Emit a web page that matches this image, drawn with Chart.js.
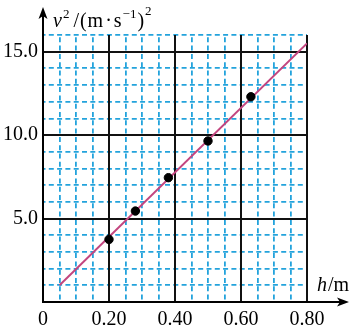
<!DOCTYPE html>
<html>
<head>
<meta charset="utf-8">
<script src="https://cdn.jsdelivr.net/npm/chart.js@4.4.1/dist/chart.umd.min.js"></script>
<style>
  html, body { margin: 0; padding: 0; background: #fff; }
  #wrap { width: 354px; height: 329px; }
</style>
</head>
<body>
<div id="wrap"><canvas id="v2Chart" width="354" height="329"></canvas></div>
<script>
  // measured points: h (m) against v^2 ((m/s)^2)
  const hValues = [0.20, 0.28, 0.38, 0.50, 0.63];
  const v2Values = [3.75, 5.45, 7.45, 9.65, 12.3];

  // fitted straight line (two end points)
  const fitH = [0.05, 0.80];
  const fitV2 = [1.0, 15.5];

  // axis ticks and their labels
  const hTicks = [0, 0.20, 0.40, 0.60, 0.80];
  const hTickLabels = ['0', '0.20', '0.40', '0.60', '0.80'];
  const v2Ticks = [0, 5, 10, 15];
  const v2TickLabels = ['', '5.0', '10.0', '15.0'];
  const hMinorStep = 0.05;
  const v2MinorStep = 1;
  const hMax = 0.80;
  const v2Max = 16;

  const SERIF = '"Liberation Serif", "Times New Roman", serif';
  const CYAN = '#23a3dc';

  const isNear = (v, list) => list.some(t => Math.abs(t - v) < 1e-6);

  const labelFor = (v, ticks, labels) => {
    const i = ticks.findIndex(t => Math.abs(t - v) < 1e-6);
    return i < 0 ? '' : labels[i];
  };

  // arrows on the axes and the two axis titles
  const axisDecor = {
    id: 'axisDecor',
    afterDraw(chart) {
      const { ctx, chartArea: a } = chart;
      ctx.save();
      ctx.strokeStyle = '#000';
      ctx.fillStyle = '#000';
      ctx.lineWidth = 2;

      // y axis going up past the grid
      ctx.beginPath();
      ctx.moveTo(a.left, a.top);
      ctx.lineTo(a.left, 14);
      ctx.stroke();
      ctx.beginPath();
      ctx.moveTo(a.left, 7);
      ctx.lineTo(a.left - 4.5, 19);
      ctx.lineTo(a.left, 16);
      ctx.lineTo(a.left + 4.5, 19);
      ctx.closePath();
      ctx.fill();

      // x axis going right past the grid
      ctx.beginPath();
      ctx.moveTo(a.right, a.bottom);
      ctx.lineTo(342, a.bottom);
      ctx.stroke();
      ctx.beginPath();
      ctx.moveTo(349, a.bottom);
      ctx.lineTo(337, a.bottom - 4.5);
      ctx.lineTo(340, a.bottom);
      ctx.lineTo(337, a.bottom + 4.5);
      ctx.closePath();
      ctx.fill();

      const reg = '20px ' + SERIF;
      const ital = 'italic 20px ' + SERIF;
      const sup = '13px ' + SERIF;

      function drawRich(x, y, parts) {
        ctx.textBaseline = 'alphabetic';
        ctx.textAlign = 'left';
        parts.forEach(p => {
          ctx.font = p.font;
          ctx.fillText(p.text, x, y + (p.dy || 0));
          x += ctx.measureText(p.text).width + (p.gap || 0);
        });
      }

      drawRich(a.left + 10, 27, [
        { text: 'v', font: ital, gap: 1 },
        { text: '2', font: sup, dy: -9, gap: 4 },
        { text: '/', font: reg, gap: 1 },
        { text: '(', font: reg, gap: 1 },
        { text: 'm', font: reg, gap: 2 },
        { text: '·', font: reg, gap: 2 },
        { text: 's', font: reg, gap: 1 },
        { text: '\u22121', font: sup, dy: -9, gap: 1 },
        { text: ')', font: reg, gap: 1 },
        { text: '2', font: sup, dy: -12 }
      ]);

      drawRich(a.right + 10, a.bottom - 11, [
        { text: 'h', font: ital, gap: 1 },
        { text: '/m', font: reg }
      ]);
      ctx.restore();
    }
  };

  const ctx = document.getElementById('v2Chart').getContext('2d');

  new Chart(ctx, {
    type: 'scatter',
    data: {
      datasets: [
        {
          label: 'measured',
          data: hValues.map((h, i) => ({ x: h, y: v2Values[i] })),
          backgroundColor: '#000',
          borderColor: '#000',
          pointRadius: 4.2,
          pointHoverRadius: 4.2
        },
        {
          label: 'fit',
          type: 'line',
          data: fitH.map((h, i) => ({ x: h, y: fitV2[i] })),
          borderColor: '#c3457f',
          borderWidth: 2,
          pointRadius: 0,
          fill: false
        }
      ]
    },
    options: {
      responsive: false,
      animation: false,
      events: [],
      layout: { padding: { left: 0, top: 35, right: 47, bottom: 0 } },
      plugins: { legend: { display: false }, tooltip: { enabled: false } },
      scales: {
        // dashed cyan minor grid
        xm: {
          type: 'linear', position: 'bottom', min: 0, max: hMax,
          ticks: { stepSize: hMinorStep, display: false },
          grid: {
            z: -2, drawTicks: false, lineWidth: 1.8,
            color: c => (isNear(c.tick.value, hTicks) ? 'rgba(0,0,0,0)' : CYAN)
          },
          border: { display: false, dash: [5, 3.3], dashOffset: 6 },
          afterFit: s => { s.height = 0; }
        },
        ym: {
          type: 'linear', position: 'left', min: 0, max: v2Max,
          ticks: { stepSize: v2MinorStep, display: false },
          grid: {
            z: -2, drawTicks: false, lineWidth: 1.8,
            color: c => (isNear(c.tick.value, v2Ticks) ? 'rgba(0,0,0,0)' : CYAN)
          },
          border: { display: false, dash: [5, 3.3], dashOffset: 2.5 },
          afterFit: s => { s.width = 0; }
        },
        // solid black major grid with labels
        x: {
          type: 'linear', position: 'bottom', min: 0, max: hMax,
          ticks: {
            stepSize: 0.2, autoSkip: false, includeBounds: false, padding: 6,
            color: '#000', font: { family: SERIF, size: 20 },
            maxRotation: 0,
            callback: v => labelFor(v, hTicks, hTickLabels)
          },
          grid: { z: -1, drawTicks: false, lineWidth: 2, color: '#111' },
          border: { display: true, color: '#000', width: 2 },
          afterFit: s => { s.height = 27; }
        },
        y: {
          type: 'linear', position: 'left', min: 0, max: v2Max,
          ticks: {
            stepSize: 5, autoSkip: false, includeBounds: false, padding: 5,
            color: '#000', font: { family: SERIF, size: 20 },
            callback: v => labelFor(v, v2Ticks, v2TickLabels)
          },
          grid: { z: -1, drawTicks: false, lineWidth: 2, color: '#111' },
          border: { display: true, color: '#000', width: 2 },
          afterFit: s => { s.width = 43; }
        }
      }
    },
    plugins: [axisDecor]
  });
</script>
</body>
</html>
